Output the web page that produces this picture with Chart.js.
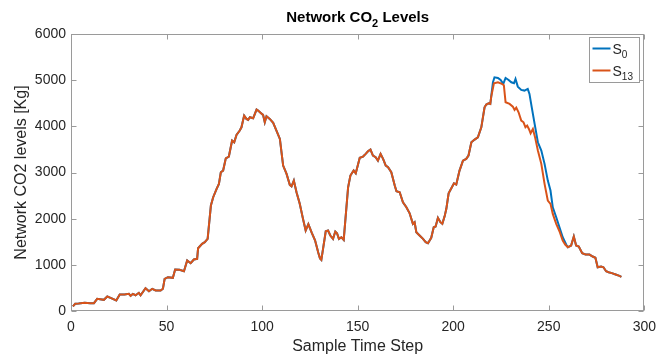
<!DOCTYPE html>
<html>
<head>
<meta charset="utf-8">
<script src="https://cdn.jsdelivr.net/npm/chart.js@4"></script>
<style>
  html, body { margin: 0; padding: 0; background: #fff; }
</style>
</head>
<body>
<canvas id="co2-chart" width="664" height="358"></canvas>
<script>
// Sample steps / CO2 [Kg] shared by both scenarios before the evening peak
const rampSteps = [1, 2.2, 4, 7.2, 10, 12, 13.7, 17.2, 19, 21, 23.7, 25.5, 28, 30.3, 31.2, 32.4, 33.8, 35.5, 36.4, 39,
  40.8, 42.5, 44.3, 46.9, 48.1, 49, 50.7, 53.3, 54.5, 56.8, 59.1, 60.8, 62.6, 64.3, 66, 66.5, 68.6, 70, 71.5, 73.2,
  74.4, 76.2, 77.4, 78.4, 79.6, 81, 82.6, 84.3, 85.4, 86.6, 88.3, 89.2, 90.6, 91.8, 92.7, 93.6, 95.3, 97.1, 97.9, 99.3,
  100.5, 101.4, 102.3, 104, 105.8, 107.5, 109.3, 111, 112.8, 114.5, 115.4, 116.6, 118, 119.7, 121.4, 122.8, 124.2, 126, 127.7, 129.4,
  130.3, 131, 133.3, 134.5, 135.7, 137.1, 138.3, 139.2, 140.2, 141.5, 142.7, 145, 146.2, 147.9, 149, 151.1, 152.8, 154.2, 155.4, 156.7,
  158, 159.4, 160.6, 162, 163.3, 164.7, 165.9, 167.6, 169.4, 170.3, 172, 173.7, 175.5, 177.2, 178.9, 179.8, 180.7, 182.4, 184.2, 185.6,
  186.8, 188.5, 189.8, 190.8, 192, 193.3, 194.3, 195.5, 196.4, 197.6, 199.3, 200.4, 201.6, 203.3, 205.1, 206.8, 208, 209.5, 211.2, 212.9,
  214.7, 216.4, 217.3, 218.5, 219.4];
const rampCO2 = [100, 155, 160, 178, 170, 169, 264, 242, 314, 280, 227, 357, 360, 372, 329, 372, 342, 394, 342, 494,
  429, 481, 444, 444, 481, 697, 732, 719, 898, 892, 862, 1093, 1035, 1115, 1130, 1360, 1455, 1490, 1563, 2284,
  2464, 2646, 2754, 3005, 3042, 3308, 3345, 3691, 3655, 3815, 3908, 3979, 4233, 4161, 4139, 4196, 4174, 4363, 4341, 4291,
  4248, 4088, 4217, 4161, 4075, 3908, 3728, 3150, 2970, 2732, 2702, 2825, 2572, 2321, 1996, 1743, 1880, 1690, 1530, 1260,
  1140, 1108, 1728, 1743, 1635, 1563, 1721, 1685, 1563, 1598, 1541, 2680, 2934, 3042, 2983, 3317, 3345, 3403, 3460, 3497,
  3367, 3330, 3258, 3403, 3295, 3150, 3113, 3005, 2717, 2594, 2572, 2356, 2247, 2117, 1888, 1923, 1706, 1635, 1563, 1490,
  1468, 1585, 1814, 1829, 2018, 1923, 1888, 2050, 2213, 2550, 2680, 2767, 2739, 3042, 3258, 3295, 3367, 3655, 3713, 3763,
  3979, 4412, 4471, 4499, 4485];

// Evening peak, S0
const peakStepsS0 = [220.8, 221.6, 223.4, 224.8, 226.2, 227.4, 229, 230.4, 231.8, 232.6, 233.8, 235.6, 237.3, 239, 239.9,
  241.1, 242.6, 244.3, 246.1, 247.8, 249.5, 250.9, 252.1, 253.9, 255.6, 257.3, 259.1];
const peakCO2S0 = [4954, 5062, 5049, 5005, 4919, 5049, 5005, 4954, 4932, 5027, 4860, 4789, 4774, 4811, 4702,
  4412, 4053, 3655, 3475, 3187, 2825, 2609, 2247, 2031, 1814, 1598, 1440];

// Evening peak, S13
const peakStepsS13 = [219.9, 221.3, 223.4, 225.5, 226.5, 227.4, 229.5, 231.2, 232.1, 233, 234.2, 235.6, 236.8, 237.8, 238.7,
  239.6, 240.5, 241.7, 242.9, 244.3, 246.1, 247.8, 249.5, 250.9, 252.1, 253.9, 255.6, 257.3, 258.6];
const peakCO2S13 = [4644, 4932, 4954, 4919, 4890, 4521, 4486, 4427, 4356, 4405, 4304, 4124, 4088, 3979, 4015,
  3944, 3850, 3944, 3750, 3475, 3187, 2754, 2392, 2321, 2104, 1888, 1728, 1526, 1440];

// Night tail, shared again
const tailSteps = [260, 261.7, 263.1, 264.3, 265.7, 267.5, 269.2, 271.3, 273, 274.4, 275.6, 277.4, 278.6, 280, 281.3, 283, 285, 287, 288];
const tailCO2 = [1381, 1418, 1613, 1418, 1396, 1251, 1223, 1223, 1180, 1152, 948, 963, 948, 862, 840, 820, 790, 760, 740];

const xTicks = [0, 50, 100, 150, 200, 250, 300];
const yTicks = [0, 1000, 2000, 3000, 4000, 5000, 6000];

const FONT = '"Liberation Sans", Arial, Helvetica, sans-serif';
const TEXT = '#262626';
const FRAME = '#9a9a9a';
const BLUE = '#0072BD';
const ORANGE = '#D95319';

function toPoints(steps, values) {
  return steps.map((s, i) => ({ x: s, y: values[i] }));
}

const seriesS0 = toPoints(rampSteps.concat(peakStepsS0, tailSteps), rampCO2.concat(peakCO2S0, tailCO2));
const seriesS13 = toPoints(rampSteps.concat(peakStepsS13, tailSteps), rampCO2.concat(peakCO2S13, tailCO2));

// text with a subscript part, e.g. CO + 2
function drawSubText(ctx, parts, x, y, size, weight, align) {
  let total = 0;
  parts.forEach(p => {
    ctx.font = `${weight} ${p.sub ? Math.round(size * 0.72) : size}px ${FONT}`;
    p.w = ctx.measureText(p.t).width;
    total += p.w;
  });
  let cx = align === 'center' ? x - total / 2 : x;
  parts.forEach(p => {
    ctx.font = `${weight} ${p.sub ? Math.round(size * 0.72) : size}px ${FONT}`;
    ctx.fillText(p.t, cx, p.sub ? y + size * 0.3 : y);
    cx += p.w;
  });
}

// MATLAB style box, inward ticks, title and legend
const matlabAxes = {
  id: 'matlabAxes',
  afterDraw(chart) {
    const { ctx, chartArea: a, scales: { x, y } } = chart;
    ctx.save();
    ctx.strokeStyle = FRAME;
    ctx.lineWidth = 1;
    const L = Math.round(a.left) + 0.5, R = Math.round(a.right) - 0.5;
    const T = Math.round(a.top) + 0.5, B = Math.round(a.bottom) - 0.5;
    ctx.strokeRect(L, T, R - L, B - T);
    ctx.beginPath();
    xTicks.forEach(v => {
      const px = Math.round(x.getPixelForValue(v)) + 0.5;
      ctx.moveTo(px, B); ctx.lineTo(px, B - 5);
      ctx.moveTo(px, T); ctx.lineTo(px, T + 5);
    });
    yTicks.forEach(v => {
      const py = Math.round(y.getPixelForValue(v)) + 0.5;
      ctx.moveTo(L, py); ctx.lineTo(L + 5, py);
      ctx.moveTo(R, py); ctx.lineTo(R - 5, py);
    });
    ctx.stroke();

    // title
    ctx.fillStyle = '#000';
    ctx.textBaseline = 'alphabetic';
    ctx.textAlign = 'left';
    drawSubText(ctx, [{ t: 'Network CO' }, { t: '2', sub: true }, { t: ' Levels' }],
      (a.left + a.right) / 2, 22, 15, 'bold', 'center');

    // legend
    const lw = 50, lh = 45;
    const lx = Math.round(a.right) - 5 - lw + 0.5, ly = Math.round(a.top) + 3 + 0.5;
    ctx.fillStyle = '#fff';
    ctx.fillRect(lx, ly, lw, lh);
    ctx.strokeStyle = FRAME;
    ctx.strokeRect(lx, ly, lw, lh);
    const rows = [
      { c: BLUE, sub: '0', cy: ly + 11 },
      { c: ORANGE, sub: '13', cy: ly + 33 }
    ];
    rows.forEach(r => {
      ctx.strokeStyle = r.c;
      ctx.lineWidth = 2;
      ctx.beginPath();
      ctx.moveTo(lx + 3, r.cy); ctx.lineTo(lx + 21, r.cy);
      ctx.stroke();
      ctx.fillStyle = TEXT;
      drawSubText(ctx, [{ t: 'S' }, { t: r.sub, sub: true }], lx + 23, r.cy + 5, 14, 'normal', 'left');
    });
    ctx.restore();
  }
};

const ctx = document.getElementById('co2-chart').getContext('2d');
const co2Chart = new Chart(ctx, {
  type: 'line',
  data: {
    datasets: [
      {
        label: 'S0',
        data: seriesS0,
        borderColor: BLUE,
        borderWidth: 2,
        pointRadius: 0,
        tension: 0,
        fill: false,
        order: 2,
      },
      {
        label: 'S13',
        data: seriesS13,
        borderColor: ORANGE,
        borderWidth: 2,
        pointRadius: 0,
        tension: 0,
        fill: false,
        order: 1,
      },
    ],
  },
  options: {
    responsive: false,
    animation: false,
    layout: { padding: { top: 34, right: 19, left: 0, bottom: 0 } },
    plugins: {
      legend: { display: false },
      title: { display: false },
      tooltip: { enabled: false },
    },
    scales: {
      x: {
        type: 'linear',
        min: 0,
        max: 300,
        afterFit: (scale) => { scale.height = 47; },
        afterBuildTicks: (scale) => { scale.ticks = xTicks.map(v => ({ value: v })); },
        grid: { display: false, drawTicks: false },
        border: { display: false },
        ticks: {
          color: TEXT,
          padding: 8,
          maxRotation: 0,
          font: { family: FONT, size: 14 },
          callback: (v) => String(v),
        },
        title: {
          display: true,
          text: 'Sample Time Step',
          color: TEXT,
          font: { family: FONT, size: 16 },
          padding: { top: 0, bottom: 2 },
        },
      },
      y: {
        type: 'linear',
        min: 0,
        max: 6000,
        afterFit: (scale) => { scale.width = 71; },
        afterBuildTicks: (scale) => { scale.ticks = yTicks.map(v => ({ value: v })); },
        grid: { display: false, drawTicks: false },
        border: { display: false },
        ticks: {
          color: TEXT,
          padding: 5,
          font: { family: FONT, size: 14 },
          callback: (v) => String(v),
        },
        title: {
          display: true,
          text: 'Network CO2 levels [Kg]',
          color: TEXT,
          font: { family: FONT, size: 16 },
          padding: { top: 12, bottom: 0 },
        },
      },
    },
  },
  plugins: [matlabAxes],
});
</script>
</body>
</html>
